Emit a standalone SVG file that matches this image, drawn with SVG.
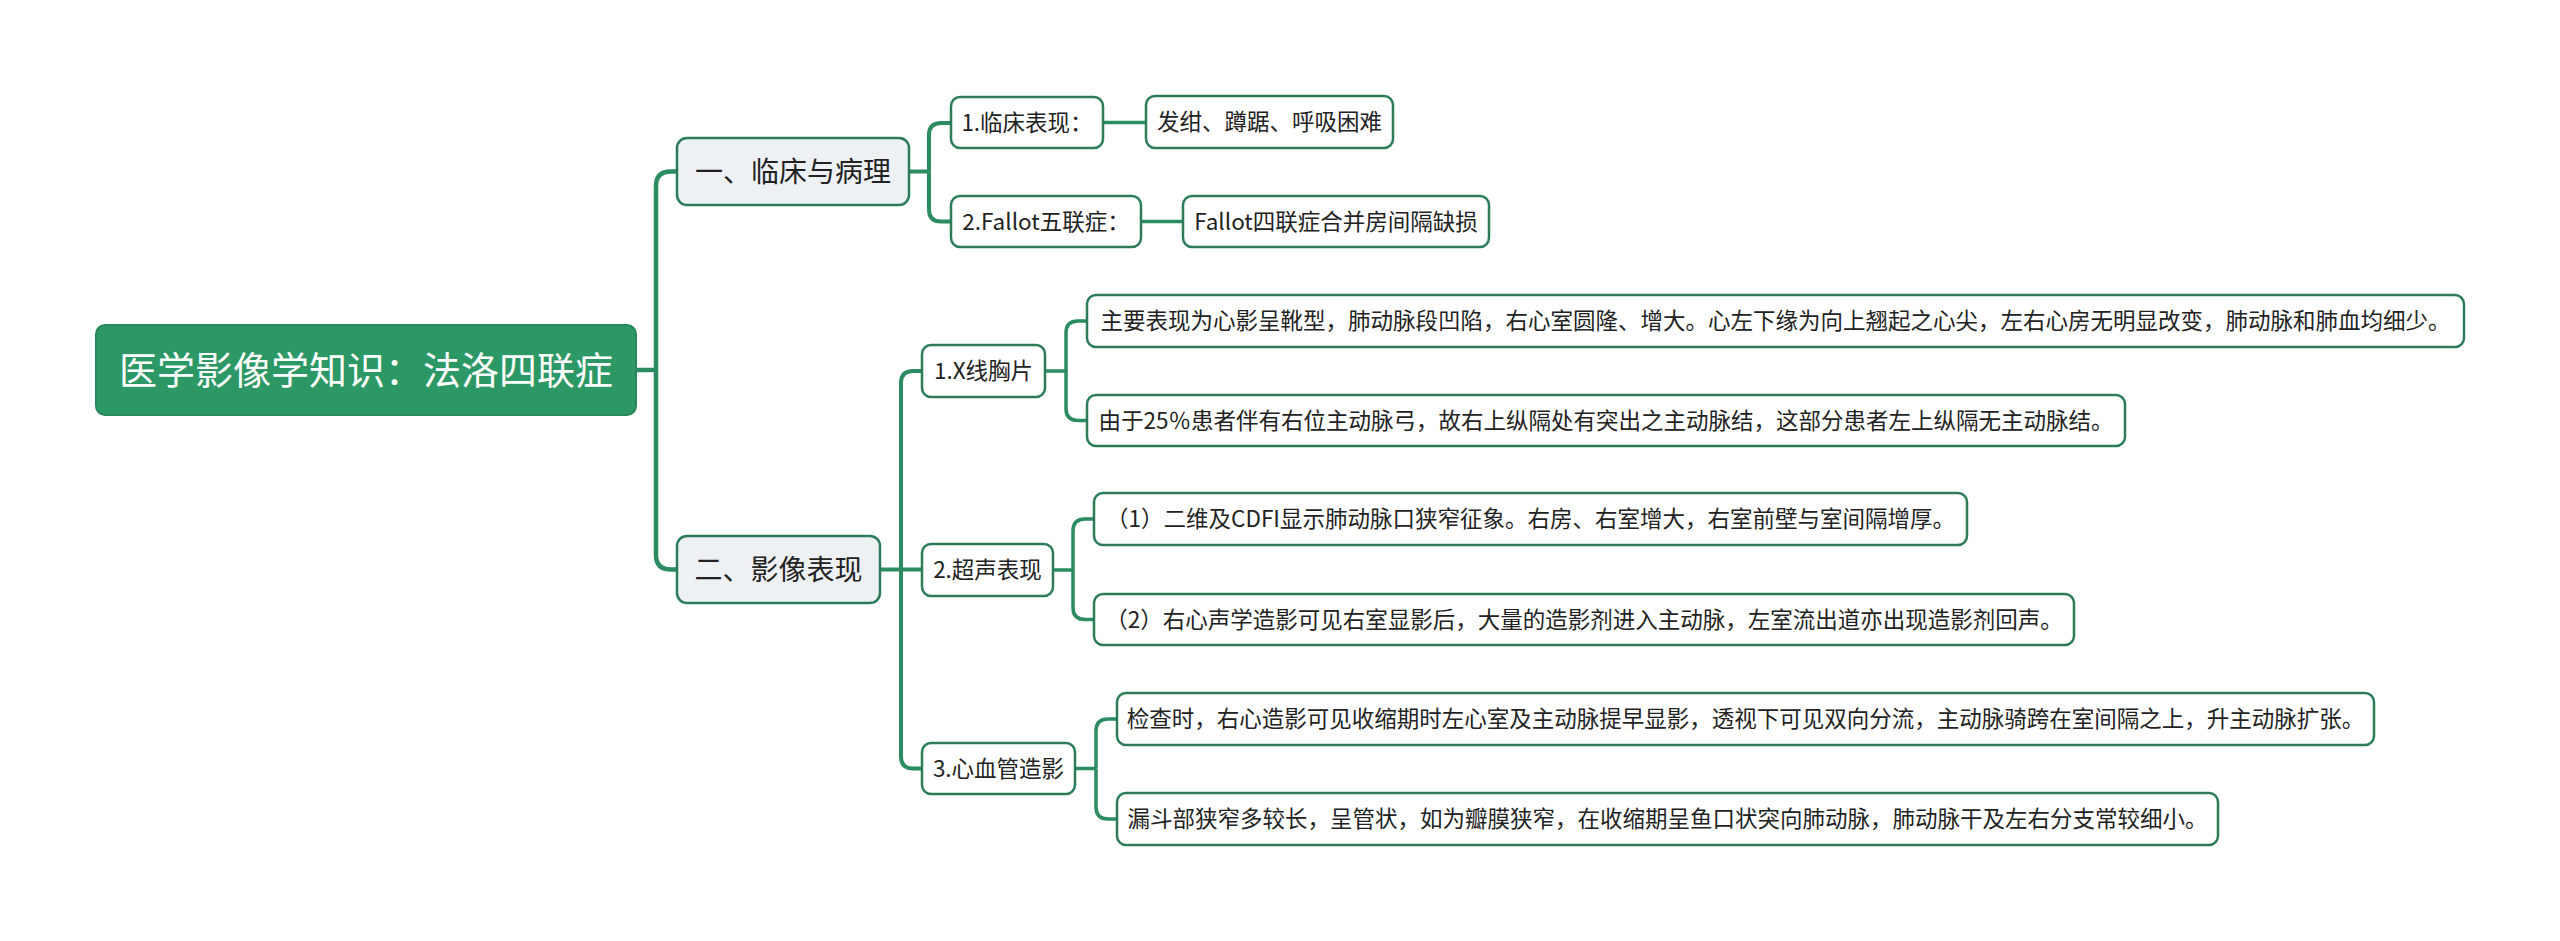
<svg xmlns="http://www.w3.org/2000/svg" width="2560" height="941" viewBox="0 0 2560 941">
<style>
  .bg{fill:#ffffff}
  .root rect{fill:#2c9866;stroke:#28875b;stroke-width:2}
  .root text{fill:#ffffff;font-size:38px}
  .l1 rect{fill:#eef1f4;stroke:#2b7d59;stroke-width:2.5}
  .l1 text{fill:#222222;font-size:28px}
  .l2 rect,.leaf rect{fill:#ffffff;stroke:#2b7d59;stroke-width:2.5}
  .l2 text,.leaf text{fill:#222222;font-size:22.5px}
  text{font-family:"Noto Sans CJK SC","Noto Sans",sans-serif;text-anchor:middle}
  .c0{fill:none;stroke:#2a8c60;stroke-width:4.5}
  .c1{fill:none;stroke:#2a8c60;stroke-width:4}
  .c2{fill:none;stroke:#2a8c60;stroke-width:3.5}
</style>
<rect class="bg" x="0" y="0" width="2560" height="941"/>

<g id="connectors">
  <!-- root to level 1 -->
  <path class="c0" d="M636 370 H656"/>
  <path class="c0" d="M656 370 V186 Q656 171.5 671 171.5 H677"/>
  <path class="c0" d="M656 370 V555 Q656 569.5 671 569.5 H677"/>
  <!-- 一、临床与病理 children -->
  <path class="c1" d="M909 171.5 H929"/>
  <path class="c1" d="M929 171.5 V135 Q929 123 941 123 H951"/>
  <path class="c1" d="M929 171.5 V209.5 Q929 221.5 941 221.5 H951"/>
  <path class="c2" d="M1103 122.5 H1146"/>
  <path class="c2" d="M1141 221.5 H1183"/>
  <!-- 二、影像表现 children -->
  <path class="c1" d="M880 569.5 H922"/>
  <path class="c1" d="M901 569.5 V383 Q901 371 913 371 H922"/>
  <path class="c1" d="M901 569.5 V756.5 Q901 768.5 913 768.5 H922"/>
  <!-- 1.X线胸片 children -->
  <path class="c2" d="M1045 371 H1066"/>
  <path class="c2" d="M1066 371 V333 Q1066 321 1078 321 H1087"/>
  <path class="c2" d="M1066 371 V408.5 Q1066 420.5 1078 420.5 H1087"/>
  <!-- 2.超声表现 children -->
  <path class="c2" d="M1053 570 H1073"/>
  <path class="c2" d="M1073 570 V531 Q1073 519 1085 519 H1094"/>
  <path class="c2" d="M1073 570 V607.5 Q1073 619.5 1085 619.5 H1094"/>
  <!-- 3.心血管造影 children -->
  <path class="c2" d="M1075 768.5 H1096"/>
  <path class="c2" d="M1096 768.5 V731 Q1096 719 1108 719 H1117"/>
  <path class="c2" d="M1096 768.5 V807 Q1096 819 1108 819 H1117"/>
</g>

<g id="root" class="root">
  <rect x="96" y="325" width="540" height="90" rx="9"/>
  <text x="366" y="383.5">医学影像学知识：法洛四联症</text>
</g>

<g id="n1" class="l1">
  <rect x="677" y="138" width="232" height="67" rx="10"/>
  <text x="793" y="181.5">一、临床与病理</text>
</g>
<g id="n2" class="l1">
  <rect x="677" y="536" width="203" height="67" rx="10"/>
  <text x="778.5" y="579.5">二、影像表现</text>
</g>

<g id="n1-1" class="l2">
  <rect x="951" y="97" width="152" height="51" rx="9"/>
  <text x="1027" y="130.5">1.临床表现：</text>
</g>
<g id="n1-1-1" class="leaf">
  <rect x="1146" y="96" width="247" height="52" rx="9"/>
  <text x="1269.5" y="130">发绀、蹲踞、呼吸困难</text>
</g>
<g id="n1-2" class="l2">
  <rect x="951" y="196" width="190" height="51" rx="9"/>
  <text x="1046" y="229.5">2.Fallot五联症：</text>
</g>
<g id="n1-2-1" class="leaf">
  <rect x="1183" y="196" width="306" height="51" rx="9"/>
  <text x="1336" y="229.5">Fallot四联症合并房间隔缺损</text>
</g>

<g id="n2-1" class="l2">
  <rect x="922" y="345" width="123" height="52" rx="9"/>
  <text x="983.5" y="379">1.X线胸片</text>
</g>
<g id="n2-1-1" class="leaf">
  <rect x="1087" y="295" width="1377" height="52" rx="9"/>
  <text x="1775.5" y="329">主要表现为心影呈靴型，肺动脉段凹陷，右心室圆隆、增大。心左下缘为向上翘起之心尖，左右心房无明显改变，肺动脉和肺血均细少。</text>
</g>
<g id="n2-1-2" class="leaf">
  <rect x="1087" y="395" width="1038" height="51" rx="9"/>
  <text x="1606" y="428.5">由于25％患者伴有右位主动脉弓，故右上纵隔处有突出之主动脉结，这部分患者左上纵隔无主动脉结。</text>
</g>

<g id="n2-2" class="l2">
  <rect x="922" y="544" width="131" height="52" rx="9"/>
  <text x="987.5" y="578">2.超声表现</text>
</g>
<g id="n2-2-1" class="leaf">
  <rect x="1094" y="493" width="873" height="52" rx="9"/>
  <text x="1530.5" y="527">（1）二维及CDFI显示肺动脉口狭窄征象。右房、右室增大，右室前壁与室间隔增厚。</text>
</g>
<g id="n2-2-2" class="leaf">
  <rect x="1094" y="594" width="980" height="51" rx="9"/>
  <text x="1584" y="627.5">（2）右心声学造影可见右室显影后，大量的造影剂进入主动脉，左室流出道亦出现造影剂回声。</text>
</g>

<g id="n2-3" class="l2">
  <rect x="922" y="743" width="153" height="51" rx="9"/>
  <text x="998.5" y="776.5">3.心血管造影</text>
</g>
<g id="n2-3-1" class="leaf">
  <rect x="1117" y="693" width="1257" height="52" rx="9"/>
  <text x="1745.5" y="727">检查时，右心造影可见收缩期时左心室及主动脉提早显影，透视下可见双向分流，主动脉骑跨在室间隔之上，升主动脉扩张。</text>
</g>
<g id="n2-3-2" class="leaf">
  <rect x="1117" y="793" width="1101" height="52" rx="9"/>
  <text x="1667.5" y="827">漏斗部狭窄多较长，呈管状，如为瓣膜狭窄，在收缩期呈鱼口状突向肺动脉，肺动脉干及左右分支常较细小。</text>
</g>
</svg>
